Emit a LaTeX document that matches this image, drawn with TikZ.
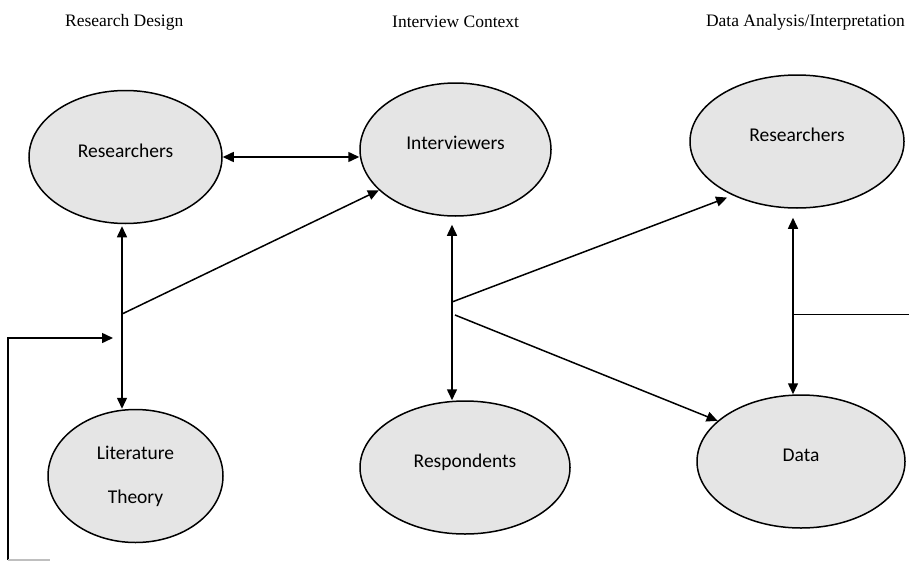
\documentclass[tikz,border=0pt]{standalone}
\usepackage{fontspec}
\setmainfont{Liberation Serif}
\newfontfamily\bubblefont{Carlito}
\usetikzlibrary{shapes.geometric,arrows.meta}

\begin{document}
\begin{tikzpicture}
[x=1pt,y=-1pt,
  bubble/.style={shape=ellipse,draw,line width=1.5pt,fill=black!10,minimum height=133pt,
    inner sep=0pt,font=\bubblefont\fontsize{19.5}{24}\selectfont},%
  oneline/.style={text height=12pt,text depth=12pt},%
  linkarrow/.style={line width=1.5pt,-{Triangle[length=11pt,width=10pt]}},%
  twoway/.style={line width=1.5pt,{Triangle[length=11pt,width=10pt]}-{Triangle[length=11pt,width=10pt]}},%
  heading/.style={inner sep=0pt,font=\fontsize{17.5}{20}\selectfont}]
\useasboundingbox (0,0) rectangle (909,562);
%% column headings
\node (hdesign) [heading,anchor=west] at (65,22) {Research Design};
\node (hcontext) [heading,anchor=west] at (392,22) {Interview Context};
\node (hanalysis) [heading,anchor=east] at (905,22) {Data Analysis/Interpretation};
%% ellipses
\foreach \nodename/\x/\y/\w/\txt in {
  res1/125.5/157/193/Researchers, intv/455.5/149.5/191/Interviewers,
  res2/797/141.5/214/Researchers, resp/465/467.5/210/Respondents,
  data/801/461.5/208/Data}
{
  \node (\nodename) at (\x,\y) [bubble,oneline,minimum width=\w pt] {\txt};
}
\node (lit) at (135.5,476) [bubble,minimum width=175pt,align=center] {Literature\\[20pt]Theory};
%% branch points
\coordinate (jleft) at (122,314);
\coordinate (jmid) at (452,302);
\coordinate (jmidlow) at (455,315);
\coordinate (jright) at (793,314);
\coordinate (feedin) at (113,338);
\coordinate (feedcorner) at (8,338);
\coordinate (feedfoot) at (8,560);
\coordinate (feedend) at (50,560);
\coordinate (rightedge) at (909,314);
%% connectors
\draw [twoway] (res1.east) -- (res1.east -| intv.west);
\draw [twoway,shorten >=2pt] (jleft |- lit.north) -- (jleft |- res1.south);
\draw [linkarrow] (jleft) -- (intv.208);
\draw [linkarrow] (feedfoot) -- (feedcorner) -- (feedin);
\draw [gray!50,line width=1.5pt] (feedfoot) -- (feedend);
\draw [twoway,shorten >=8pt] (jmid |- resp.north) -- (jmid |- intv.south);
\draw [linkarrow,shorten >=6pt] (jmid) -- (res2.220);
\draw [linkarrow] (jmidlow) -- (data.154);
\draw [twoway,shorten >=9pt] (jright |- data.north) -- (jright |- res2.south);
\draw [line width=1pt] (jright) -- (rightedge);
\end{tikzpicture}
\end{document}
